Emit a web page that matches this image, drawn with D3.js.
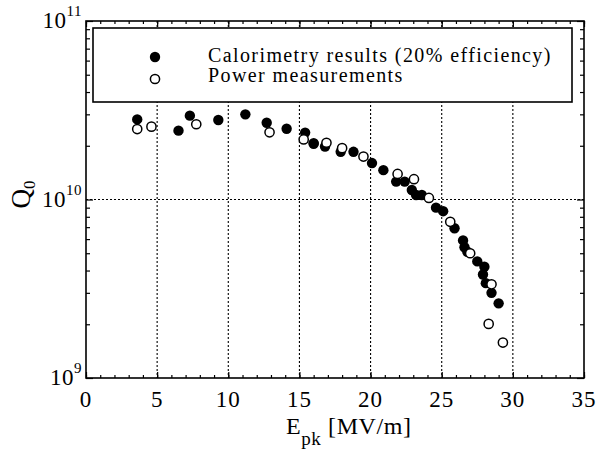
<!DOCTYPE html>
<html>
<head>
<meta charset="utf-8">
<script src="https://cdn.jsdelivr.net/npm/d3@7"></script>
<style>
  body { margin: 0; background: #fff; }
  svg { font-family: "Liberation Serif", "Times New Roman", serif; }
</style>
</head>
<body>
<div id="chart"></div>
<script>
// Data
var calEpk = [3.6, 6.5, 7.3, 9.3, 11.2, 12.7, 14.1, 15.4, 16.0, 16.0, 16.8, 17.9, 18.8, 20.1,
              20.9, 21.8, 22.4, 22.9, 23.2, 23.6, 24.6, 25.1, 25.9, 26.5, 26.6, 26.8, 27.5,
              28.0, 27.9, 28.1, 28.5, 29.0];
var calQ0  = [2.81e10, 2.43e10, 2.95e10, 2.79e10, 3.0e10, 2.69e10, 2.49e10, 2.37e10, 2.07e10, 2.05e10,
              1.98e10, 1.85e10, 1.85e10, 1.60e10, 1.46e10, 1.26e10, 1.26e10, 1.13e10, 1.06e10, 1.06e10,
              9.0e9, 8.6e9, 6.9e9, 5.9e9, 5.4e9, 5.1e9, 4.5e9, 4.2e9, 3.8e9, 3.4e9, 3.0e9, 2.62e9];
var powEpk = [3.6, 4.6, 7.75, 12.9, 15.3, 16.9, 18.0, 19.5, 21.9, 23.05, 24.1, 25.6, 27.0, 28.5, 28.3, 29.3];
var powQ0  = [2.48e10, 2.56e10, 2.64e10, 2.38e10, 2.17e10, 2.08e10, 1.94e10, 1.74e10, 1.39e10, 1.30e10,
              1.02e10, 7.5e9, 5.0e9, 3.35e9, 2.01e9, 1.58e9];
var xTicks = [0, 5, 10, 15, 20, 25, 30, 35];
var yDecades = [9, 10, 11];
var legendLabels = ['Calorimetry results (20% efficiency)', 'Power measurements'];

//   Base chart space
var margin = {top: 21, right: 24, bottom: 71, left: 86},
    width = 608 - margin.left - margin.right,
    height = 449 - margin.top - margin.bottom;

var svg = d3.select('#chart').append('svg')
    .attr('width', 608)
    .attr('height', 449)
    .append('g')
    .attr('transform', 'translate(' + margin.left + ',' + margin.top + ')');

var x = d3.scaleLinear().domain([0, 35]).range([0, width]);
var y = d3.scaleLog().domain([1e9, 1e11]).range([height, 0]);

// dotted grid
svg.selectAll('.vgrid')
    .data(xTicks.slice(1, -1))
    .enter().append('line')
    .attr('x1', function(d) { return x(d); })
    .attr('x2', function(d) { return x(d); })
    .attr('y1', 0).attr('y2', height)
    .attr('stroke', '#000').attr('stroke-width', 1.1)
    .attr('stroke-dasharray', '2,2');
svg.append('line')
    .attr('x1', 0).attr('x2', width)
    .attr('y1', y(1e10)).attr('y2', y(1e10))
    .attr('stroke', '#000').attr('stroke-width', 1.1)
    .attr('stroke-dasharray', '2,2');

// inward ticks, all four sides
var xMinor = d3.range(0, 36, 1);
var yMinor = [];
[1e9, 1e10].forEach(function(b) { for (var k = 2; k <= 9; k++) yMinor.push(b * k); });

function noLabels(a) { return a.tickFormat(''); }
svg.append('g').attr('transform', 'translate(0,' + height + ')')
    .call(noLabels(d3.axisBottom(x).tickValues(xMinor).tickSizeInner(-3).tickSizeOuter(0)));
svg.append('g').attr('transform', 'translate(0,' + height + ')')
    .call(noLabels(d3.axisBottom(x).tickValues(xTicks).tickSizeInner(-6).tickSizeOuter(0)));
svg.append('g')
    .call(noLabels(d3.axisTop(x).tickValues(xMinor).tickSizeInner(-3).tickSizeOuter(0)));
svg.append('g')
    .call(noLabels(d3.axisTop(x).tickValues(xTicks).tickSizeInner(-6).tickSizeOuter(0)));
svg.append('g')
    .call(noLabels(d3.axisLeft(y).tickValues(yMinor).tickSizeInner(-4).tickSizeOuter(0)));
svg.append('g')
    .call(noLabels(d3.axisLeft(y).tickValues([1e9, 1e10, 1e11]).tickSizeInner(-7).tickSizeOuter(0)));
svg.append('g').attr('transform', 'translate(' + width + ',0)')
    .call(noLabels(d3.axisRight(y).tickValues(yMinor).tickSizeInner(-4).tickSizeOuter(0)));
svg.append('g').attr('transform', 'translate(' + width + ',0)')
    .call(noLabels(d3.axisRight(y).tickValues([1e9, 1e10, 1e11]).tickSizeInner(-7).tickSizeOuter(0)));
svg.selectAll('.domain').remove();
svg.selectAll('.tick line').attr('stroke', '#000').attr('stroke-width', 1.2);

// frame
svg.append('rect')
    .attr('width', width).attr('height', height)
    .attr('fill', 'none').attr('stroke', '#000').attr('stroke-width', 1.6);

// tick labels
svg.selectAll('.xlab')
    .data(xTicks)
    .enter().append('text')
    .attr('x', function(d) { return x(d); })
    .attr('y', height + 29)
    .attr('text-anchor', 'middle')
    .attr('font-size', 23)
    .attr('letter-spacing', 1)
    .text(function(d) { return d; });

var ylab = svg.selectAll('.ylab')
    .data(yDecades)
    .enter().append('text')
    .attr('x', -4)
    .attr('y', function(d) { return y(Math.pow(10, d)) + 7; })
    .attr('text-anchor', 'end')
    .attr('font-size', 23)
    .attr('letter-spacing', 0.5);
ylab.append('tspan').text('10');
ylab.append('tspan').attr('dy', -12).attr('font-size', 15).text(function(d) { return d; });

// axis titles
var xt = svg.append('text')
    .attr('x', 200).attr('y', height + 56)
    .attr('font-size', 24)
    .attr('letter-spacing', 0.6);
xt.append('tspan').text('E');
xt.append('tspan').attr('dy', 11).attr('font-size', 19).text('pk');
xt.append('tspan').attr('dy', -11).text(' [MV/m]');

var yt = svg.append('text')
    .attr('transform', 'translate(-56,' + (y(1e10) + 9) + ') rotate(-90)')
    .attr('font-size', 27);
yt.append('tspan').text('Q');
yt.append('tspan').attr('dy', 5).attr('font-size', 17).text('0');

// Plot
var cal = calEpk.map(function(d, i) { return {e: d, q: calQ0[i]}; });
var pow = powEpk.map(function(d, i) { return {e: d, q: powQ0[i]}; });

svg.selectAll('.cal')
    .data(cal)
    .enter().append('circle')
    .attr('cx', function(d) { return x(d.e); })
    .attr('cy', function(d) { return y(d.q); })
    .attr('r', 5.2)
    .attr('fill', '#000');

svg.selectAll('.pow')
    .data(pow)
    .enter().append('circle')
    .attr('cx', function(d) { return x(d.e); })
    .attr('cy', function(d) { return y(d.q); })
    .attr('r', 4.6)
    .attr('fill', '#fff')
    .attr('stroke', '#000')
    .attr('stroke-width', 1.5);

// legend
var lg = svg.append('g').attr('transform', 'translate(7,7)');
lg.append('rect')
    .attr('width', 479).attr('height', 74)
    .attr('fill', '#fff').attr('stroke', '#000').attr('stroke-width', 1.6);
lg.append('circle').attr('cx', 62).attr('cy', 29).attr('r', 5.2).attr('fill', '#000');
lg.append('circle').attr('cx', 62).attr('cy', 51).attr('r', 4.6)
    .attr('fill', '#fff').attr('stroke', '#000').attr('stroke-width', 1.5);
lg.selectAll('.ltext')
    .data(legendLabels)
    .enter().append('text')
    .attr('x', 115)
    .attr('y', function(d, i) { return 34 + i * 20; })
    .attr('font-size', 20)
    .attr('letter-spacing', 1.4)
    .text(function(d) { return d; });
</script>
</body>
</html>
